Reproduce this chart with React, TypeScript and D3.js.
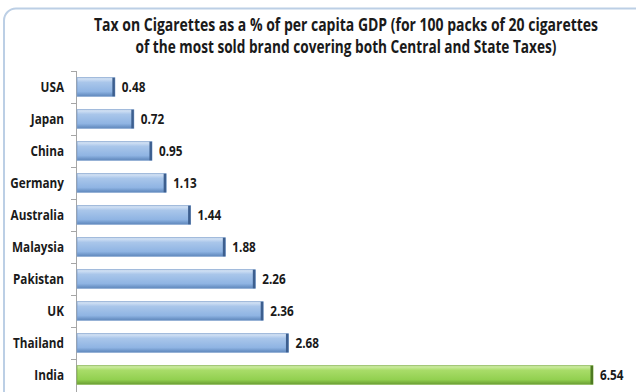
import React from "react";
import * as d3 from "d3";

const categories = ["USA", "Japan", "China", "Germany", "Australia", "Malaysia", "Pakistan", "UK", "Thailand", "India"];
const values = [0.48, 0.72, 0.95, 1.13, 1.44, 1.88, 2.26, 2.36, 2.68, 6.54];
const highlight = ["India"];
const titleLines = [
  "Tax on Cigarettes as a % of per capita GDP (for 100 packs of 20 cigarettes",
  "of the most sold brand covering both Central and State Taxes)",
];

const W = 636;
const H = 392;
const FONT = "'Open Sans', 'Liberation Sans', sans-serif";
const SX = 0.84;

export default function App() {
  const x = d3.scaleLinear().domain([0, 6.54]).range([77, 593]);
  const y = d3.scaleBand<string>().domain(categories).range([71, 391]).paddingInner(0.42).paddingOuter(0.21);
  const step = y.step();
  const bw = y.bandwidth();
  const titleScales = [0.8, 0.78];
  return (
    <svg width={W} height={H} style={{ position: "fixed", left: 0, top: 0 }} fontFamily={FONT}>
      <defs>
        <linearGradient id="gBlue" x1="0" y1="0" x2="0" y2="1">
          <stop offset="0" stopColor="#dce8f7" />
          <stop offset="0.25" stopColor="#a9c6ea" />
          <stop offset="0.75" stopColor="#8fb4e3" />
          <stop offset="1" stopColor="#5d86bb" />
        </linearGradient>
        <linearGradient id="gGreen" x1="0" y1="0" x2="0" y2="1">
          <stop offset="0" stopColor="#d6f0b0" />
          <stop offset="0.25" stopColor="#a8dc68" />
          <stop offset="0.75" stopColor="#92d050" />
          <stop offset="1" stopColor="#6a9e33" />
        </linearGradient>
      </defs>
      <rect x={0} y={0} width={W} height={H} fill="#ffffff" />
      <rect x={4} y={8.5} width={720} height={500} rx={12} fill="#ffffff" stroke="#bccfe5" strokeWidth={2} />
      {titleLines.map((t, i) => (
        <text
          key={i}
          transform={`translate(346,${30.5 + i * 22.5}) scale(${titleScales[i]},1)`}
          textAnchor="middle"
          fontSize={17.5}
          fontWeight="bold"
          fill="#1a1a1a"
        >
          {t}
        </text>
      ))}
      {/* axis */}
      <line x1={76.5} x2={76.5} y1={71} y2={392} stroke="#a6a6a6" strokeWidth={1} />
      {categories.map((c, i) => (
        <line key={"t" + i} x1={71} x2={76.5} y1={71 + i * step + 0.5} y2={71 + i * step + 0.5} stroke="#a6a6a6" />
      ))}
      {categories.map((c, i) => {
        const v = values[i];
        const y0 = y(c)!;
        const green = highlight.includes(c);
        const x1 = x(v);
        const cy = y0 + bw / 2;
        return (
          <g key={c}>
            <rect x={77} y={y0} width={x1 - 77} height={bw} fill={green ? "url(#gGreen)" : "url(#gBlue)"} stroke={green ? "#7fb045" : "#7d9fcc"} strokeWidth={0.8} />
            <rect x={x1 - 2.5} y={y0} width={2.5} height={bw} fill={green ? "#4e7a22" : "#3d5f8f"} />
            <text transform={`translate(64,${cy}) scale(${SX},1)`} dy="0.36em" textAnchor="end" fontSize={14} fontWeight="bold" fill="#1a1a1a">
              {c}
            </text>
            <text transform={`translate(${x1 + 7},${cy}) scale(${SX},1)`} dy="0.36em" fontSize={14} fontWeight="bold" fill="#1a1a1a">
              {v.toFixed(2)}
            </text>
          </g>
        );
      })}
    </svg>
  );
}
